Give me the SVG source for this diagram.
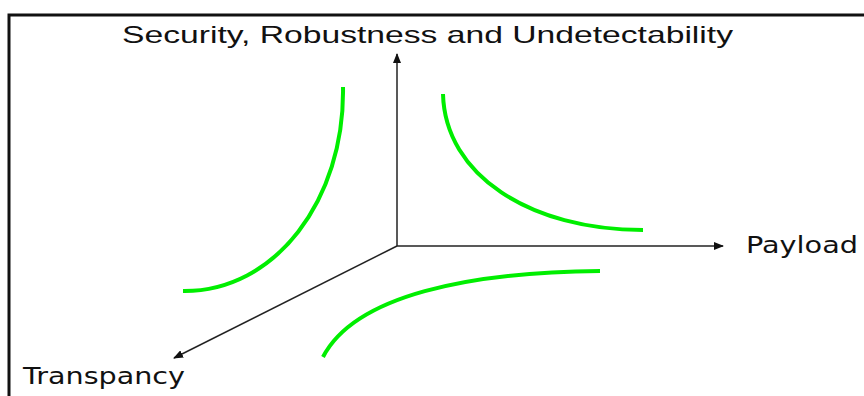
<svg xmlns="http://www.w3.org/2000/svg" width="864" height="396" viewBox="0 0 864 396">
<style>
.frame{fill:none;stroke:#111;stroke-width:3}
.axis{fill:none;stroke:#222;stroke-width:1.5}
.curve{fill:none;stroke:#00ee00;stroke-width:4;stroke-linecap:butt}
.lbl{font-family:"Liberation Sans",Arial,sans-serif;font-size:24px;fill:#111}
.lbl2{font-family:"DejaVu Sans",Verdana,sans-serif;font-size:23px;fill:#111}
</style>
<defs>
<marker id="arr" markerWidth="10" markerHeight="8" refX="9" refY="4" orient="auto" markerUnits="userSpaceOnUse">
<path d="M0,0 L10,4 L0,8 Z" fill="#111"/>
</marker>
</defs>
<rect width="864" height="396" fill="#fff"/>
<path class="frame" d="M9,396 V15 H864"/>
<g id="connectors">
<line class="axis" x1="397" y1="246" x2="397" y2="54" marker-end="url(#arr)"/>
<line class="axis" x1="397" y1="246" x2="723" y2="246" marker-end="url(#arr)"/>
<line class="axis" x1="397" y1="246" x2="174" y2="358" marker-end="url(#arr)"/>
</g>
<g id="curves">
<path class="curve" d="M343,87 C345,200 275,292 183,291"/>
<path class="curve" d="M443,94 C445,175 530,230 643,230"/>
<path class="curve" d="M323,357 C355,295 470,272 600,271"/>
</g>
<g id="label-security"><text class="lbl" x="122" y="43" textLength="611" lengthAdjust="spacingAndGlyphs">Security, Robustness and Undetectability</text></g>
<g id="label-payload"><text class="lbl2" x="746" y="253" textLength="112" lengthAdjust="spacingAndGlyphs">Payload</text></g>
<g id="label-transpancy"><text class="lbl2" x="23" y="384" textLength="162" lengthAdjust="spacingAndGlyphs">Transpancy</text></g>
</svg>
